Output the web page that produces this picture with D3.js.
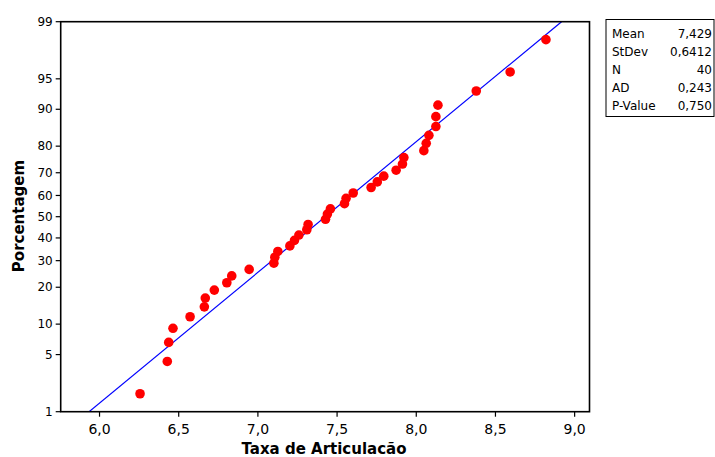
<!DOCTYPE html>
<html><head><meta charset="utf-8">
<script src="https://cdn.jsdelivr.net/npm/d3@7"></script>
<style>body{margin:0;background:#fff}svg{display:block}text{font-family:"DejaVu Sans",sans-serif}</style>
</head><body><svg id="c" width="715" height="457"></svg>
<script>
const values = [6.259,6.431,6.440,6.467,6.575,6.665,6.671,6.728,6.807,6.838,
  6.948,7.104,7.110,7.129,7.205,7.234,7.262,7.312,7.320,7.430,
  7.442,7.461,7.550,7.560,7.605,7.718,7.757,7.798,7.876,7.916,
  7.925,8.051,8.066,8.083,8.127,8.127,8.140,8.382,8.596,8.822];
const mean = 7.429, stdev = 0.6412;
const yTicks = [1,5,10,20,30,40,50,60,70,80,90,95,99];
const xTicks = [6.0,6.5,7.0,7.5,8.0,8.5,9.0];
const statLabels = ["Mean","StDev","N","AD","P-Value"];
const statValues = ["7,429","0,6412","40","0,243","0,750"];

function normInv(p){
  const a=[-3.969683028665376e+01,2.209460984245205e+02,-2.759285104469687e+02,1.383577518672690e+02,-3.066479806614716e+01,2.506628277459239e+00];
  const b=[-5.447609879822406e+01,1.615858368580409e+02,-1.556989798598866e+02,6.680131188771972e+01,-1.328068155288572e+01];
  const c=[-7.784894002430293e-03,-3.223964580411365e-01,-2.400758277161838e+00,-2.549732539343734e+00,4.374664141464968e+00,2.938163982698783e+00];
  const d=[7.784695709041462e-03,3.224671290700398e-01,2.445134137142996e+00,3.754408661907416e+00];
  const pl=0.02425,ph=1-pl;let q,r;
  if(p<pl){q=Math.sqrt(-2*Math.log(p));return (((((c[0]*q+c[1])*q+c[2])*q+c[3])*q+c[4])*q+c[5])/((((d[0]*q+d[1])*q+d[2])*q+d[3])*q+1);}
  if(p<=ph){q=p-0.5;r=q*q;return (((((a[0]*r+a[1])*r+a[2])*r+a[3])*r+a[4])*r+a[5])*q/(((((b[0]*r+b[1])*r+b[2])*r+b[3])*r+b[4])*r+1);}
  q=Math.sqrt(-2*Math.log(1-p));return -(((((c[0]*q+c[1])*q+c[2])*q+c[3])*q+c[4])*q+c[5])/((((d[0]*q+d[1])*q+d[2])*q+d[3])*q+1);
}

const svg = d3.select("#c");
const L=60.7,R=589.5,T=21.7,B=411.7;
const x = d3.scaleLinear().domain([5.758,9.097]).range([L,R]);
const zy = d3.scaleLinear().domain([normInv(0.01),normInv(0.99)]).range([B,T]);
const y = p => zy(normInv(p/100));
const n = values.length;

// axes
const xAxis = d3.axisBottom(x).tickValues(xTicks).tickSize(5).tickFormat(d=>d3.format(".1f")(d).replace(".",","));
const gx = svg.append("g").attr("transform",`translate(0,${B})`).call(xAxis);
gx.select(".domain").remove();
gx.selectAll("line").attr("stroke","#000").attr("stroke-width",1.2);
gx.selectAll("text").attr("font-size",14).attr("dy","1.05em").attr("fill","#000");

const gy = svg.append("g").attr("transform",`translate(${L},0)`);
yTicks.forEach(t=>{
  gy.append("line").attr("x1",-5).attr("x2",0).attr("y1",y(t)).attr("y2",y(t)).attr("stroke","#000").attr("stroke-width",1.2);
  gy.append("text").attr("x",-8).attr("y",y(t)).attr("dy","0.35em").attr("text-anchor","end").attr("font-size",12).text(t);
});

// clip
svg.append("clipPath").attr("id","clip").append("rect").attr("x",L).attr("y",T).attr("width",R-L).attr("height",B-T);

// fitted line
const zs = [normInv(0.01), normInv(0.99)];
svg.append("line").attr("clip-path","url(#clip)")
  .attr("x1",x(mean+zs[0]*stdev)).attr("y1",zy(zs[0]))
  .attr("x2",x(mean+zs[1]*stdev)).attr("y2",zy(zs[1]))
  .attr("stroke","#0000ff").attr("stroke-width",1.2);

// points
svg.append("g").selectAll("circle").data(values).join("circle")
  .attr("cx",d=>x(d)).attr("cy",(d,i)=>zy(normInv((i+1-0.3)/(n+0.4))))
  .attr("r",4.8).attr("fill","#ff0000");

// frame
svg.append("rect").attr("x",L).attr("y",T).attr("width",R-L).attr("height",B-T)
  .attr("fill","none").attr("stroke","#000").attr("stroke-width",1.6);

// axis titles
svg.append("text").attr("x",324).attr("y",454).attr("text-anchor","middle")
  .attr("font-size",15).attr("font-weight","bold").text("Taxa de Articulacão");
svg.append("text").attr("transform","translate(24,216) rotate(-90)").attr("text-anchor","middle")
  .attr("font-size",15).attr("font-weight","bold").text("Porcentagem");

// stats box
const bx=606, by=19.5, bw=108, bh=97;
svg.append("rect").attr("x",bx).attr("y",by).attr("width",bw).attr("height",bh)
  .attr("fill","none").attr("stroke","#000").attr("stroke-width",1);
statLabels.forEach((s,i)=>{
  const yy = by+14.5+i*17.9;
  svg.append("text").attr("x",bx+6).attr("y",yy).attr("dy","0.35em").attr("font-size",12).text(s);
  svg.append("text").attr("x",bx+bw-2).attr("y",yy).attr("dy","0.35em").attr("text-anchor","end").attr("font-size",12).text(statValues[i]);
});
</script></body></html>
